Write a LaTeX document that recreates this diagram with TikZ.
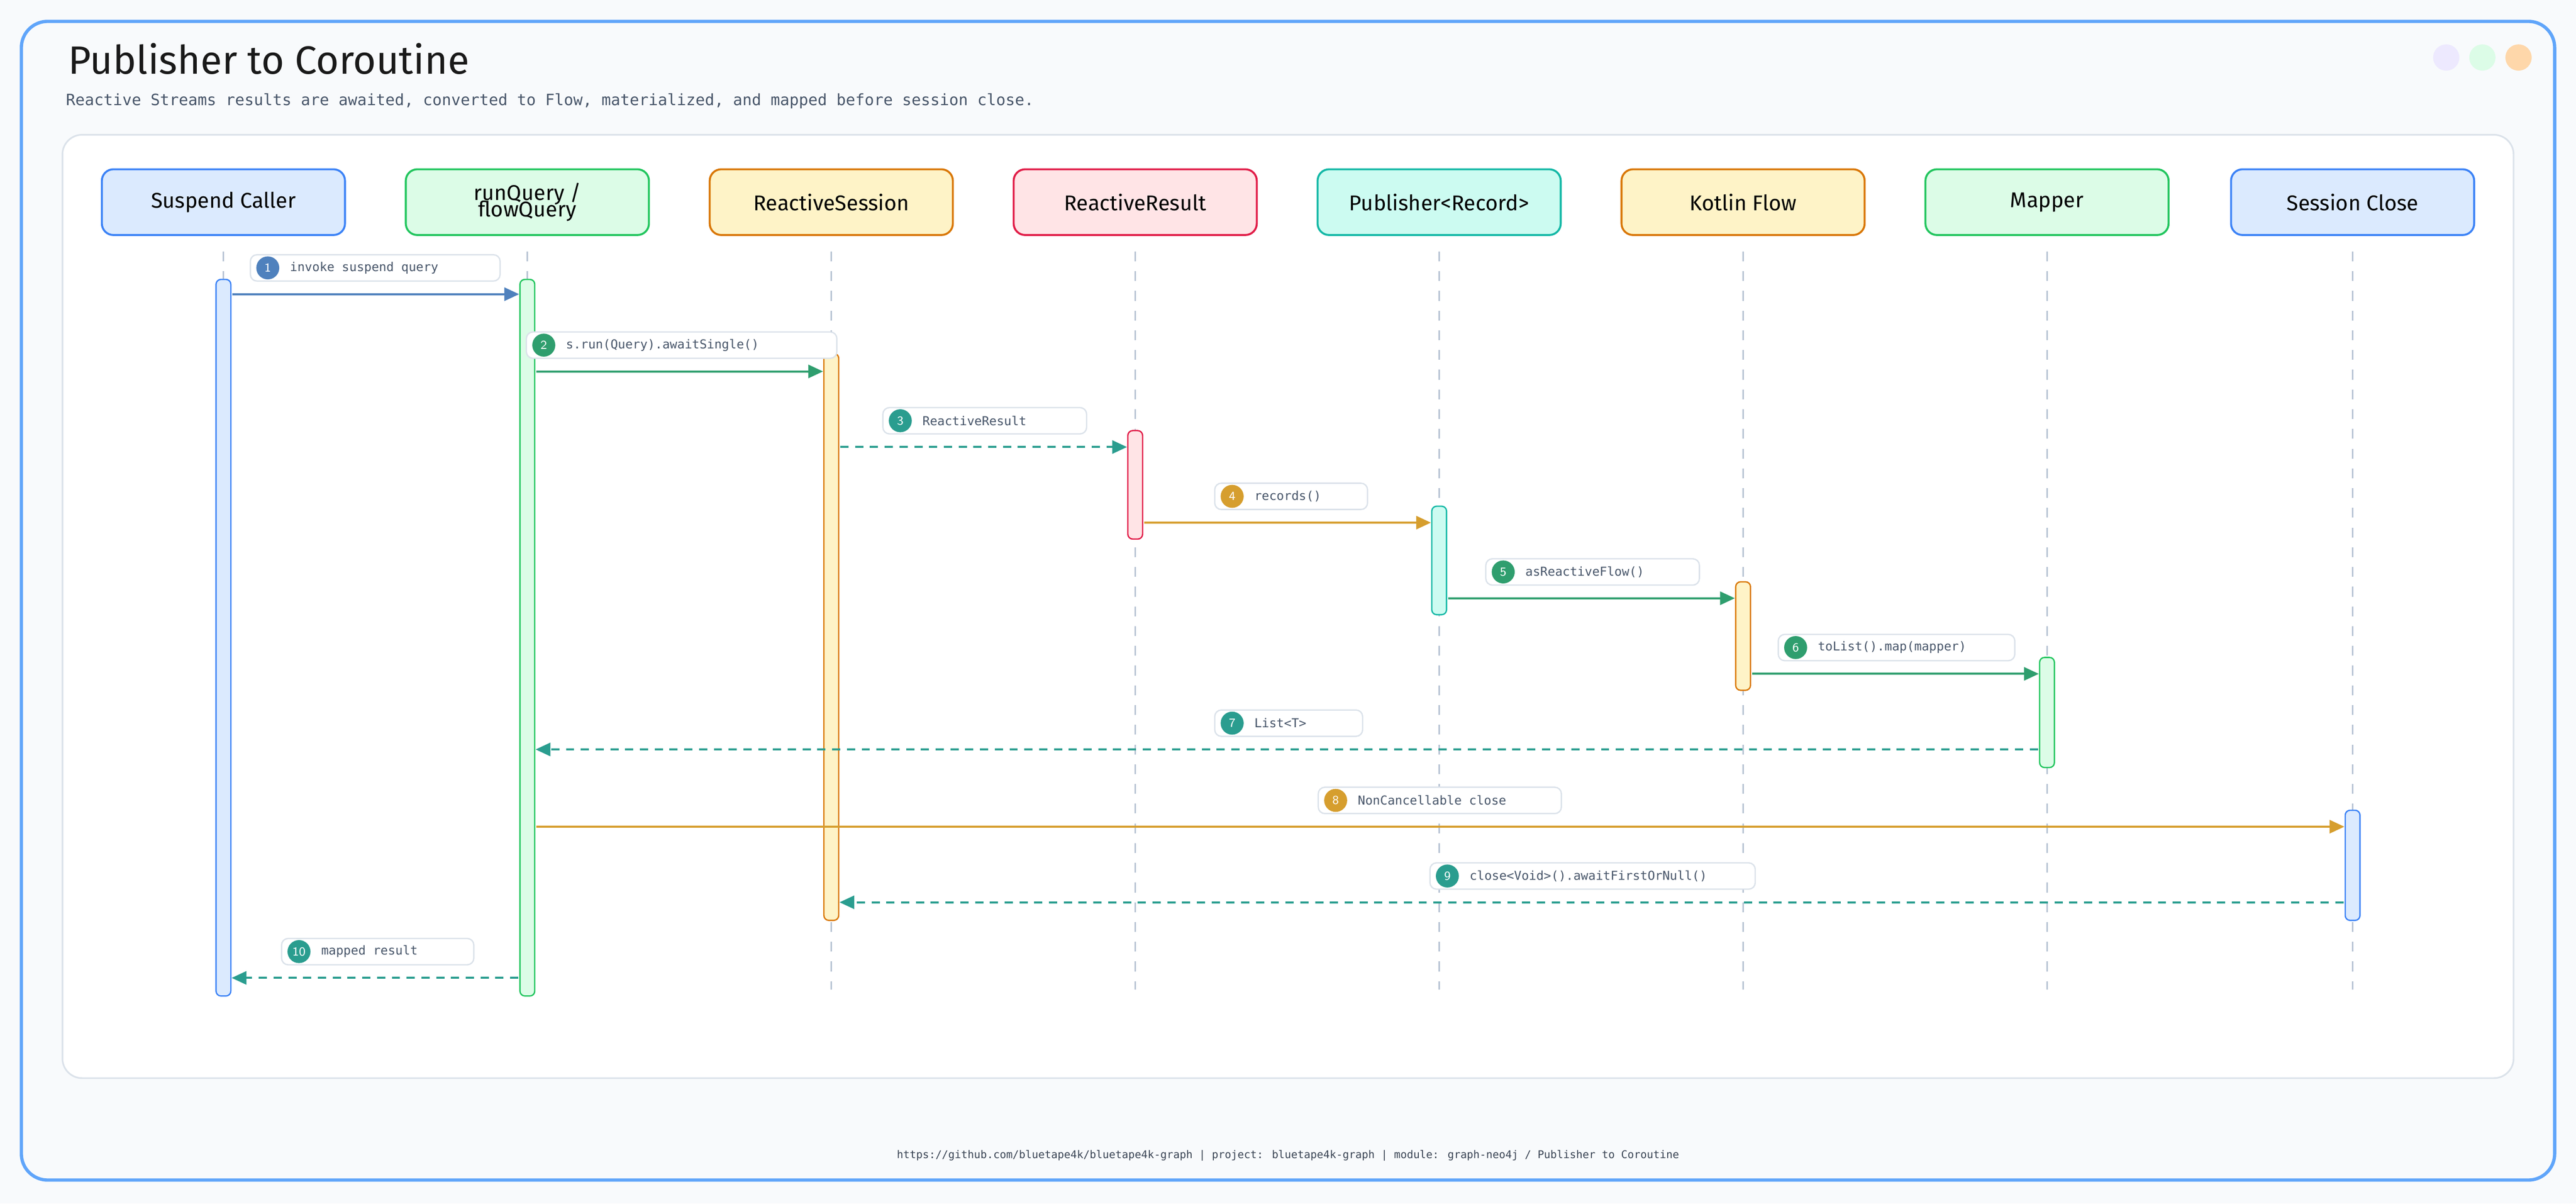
\documentclass[tikz,border=0pt]{standalone}
\usepackage{fontspec}
\setmainfont{Liberation Sans}
\newfontfamily\monof{DejaVu Sans Mono}
\newfontfamily\headf{Fira Sans}
\usetikzlibrary{arrows.meta}
\definecolor{bg}{HTML}{F8FAFC}
\definecolor{frame}{HTML}{60A5FA}
\definecolor{panel}{HTML}{DBE2EA}
\definecolor{life}{HTML}{B8C4D4}
\definecolor{bF}{HTML}{DBEAFE}\definecolor{bS}{HTML}{3B82F6}
\definecolor{gF}{HTML}{DCFCE7}\definecolor{gS}{HTML}{22C55E}
\definecolor{oF}{HTML}{FEF3C7}\definecolor{oS}{HTML}{D97706}
\definecolor{rF}{HTML}{FFE4E6}\definecolor{rS}{HTML}{E11D48}
\definecolor{tF}{HTML}{CCFBF1}\definecolor{tS}{HTML}{14B8A6}
\definecolor{mB}{HTML}{4F81BD}
\definecolor{mG}{HTML}{2F9E6E}
\definecolor{mT}{HTML}{2A9D8F}
\definecolor{mO}{HTML}{D69E2E}
\definecolor{txt}{HTML}{475569}
\definecolor{d1}{HTML}{EDE9FE}
\definecolor{d2}{HTML}{DCFCE7}
\definecolor{d3}{HTML}{FED7AA}
\begin{document}
\begin{tikzpicture}[x=1pt,y=-1pt,
  part/.style={draw=#1S,fill=#1F,line width=1.2pt,rounded corners=7pt,minimum width=148pt,minimum height=40pt,align=center,font=\headf\fontsize{13}{13}\selectfont,text=black},
  act/.style={draw=#1S,fill=#1F,line width=0.8pt,rounded corners=3pt,minimum width=9pt,inner sep=0pt},
  msg/.style={draw=#1,line width=1.3pt,-{Triangle[length=9pt,width=8pt]}},
  ret/.style={msg=#1,dash pattern=on 5pt off 4pt},
  lbl/.style={draw=panel,fill=white,rounded corners=4pt,line width=0.8pt,minimum height=16pt,inner sep=0pt,anchor=west},
  lt/.style={font=\monof\fontsize{7.5}{8}\selectfont,text=txt,anchor=west},
  badge/.style={circle,fill=#1,inner sep=0pt,minimum size=14pt,text=white,font=\sffamily\fontsize{7.5}{8}\selectfont}]
\fill[bg] (0,0) rectangle (1568,732.26);
\useasboundingbox (0,0) rectangle (1568,732.26);
\draw[frame,line width=2pt,rounded corners=16pt] (13,13) rectangle (1555,718);
\node[anchor=base west,font=\headf\fontsize{24}{24}\selectfont,text=black!90] (title) at (38,45) {Publisher to Coroutine};
\node[anchor=base west,font=\monof\fontsize{9.5}{10}\selectfont,text=txt,inner sep=0pt] (sub) at (40,64) {Reactive Streams results are awaited, converted to Flow, materialized, and mapped before session close.};
\fill[d1] (1489,35) circle (8);
\fill[d2] (1511,35) circle (8);
\fill[d3] (1533,35) circle (8);
\draw[panel,fill=white,line width=1pt,rounded corners=12pt] (38,82) rectangle (1530,656);
% participants
\foreach \n/\x/\c/\t in {p1/136/b/Suspend Caller,p2/321/g/{runQuery /\\[-3pt]flowQuery},p3/506/o/ReactiveSession,p4/691/r/ReactiveResult,p5/876/t/Publisher<Record>,p6/1061/o/Kotlin Flow,p7/1246/g/Mapper,p8/1432/b/Session Close}{
  \node[part=\c] (\n) at (\x,123) {\t};
  \draw[life,line width=0.9pt,dash pattern=on 6pt off 6pt] (\x,153) -- (\x,602);
}
% activations
\foreach \n/\x/\c/\a/\b in {a1/136/b/170/606,a2/321/g/170/606,a3/506/o/215/560,a4/691/r/262/328,a5/876/t/308/374,a6/1061/o/354/420,a7/1246/g/400/467,a8/1432/b/493/560}{
  \node[act=\c,minimum height=\b-\a] (\n) at (\x,{(\a+\b)/2}) {};
}
\foreach \i/\lx/\lw/\ly/\col/\st/\fx/\tx/\tt in {
  1/152/152/163/mB/msg/141.5/316/invoke suspend query,
  2/320/189/210/mG/msg/326.5/501/s.run(Query).awaitSingle(),
  3/537/124/256/mT/ret/511.5/686/ReactiveResult,
  4/739/93/302/mO/msg/696.5/871/records(),
  5/904/130/348/mG/msg/881.5/1056/asReactiveFlow(),
  6/1082/144/394/mG/msg/1066.5/1241/toList().map(mapper),
  7/739/90/440/mT/ret/1240.5/326/List<T>,
  8/802/148/487/mO/msg/326.5/1427/NonCancellable close,
  9/870/198/533/mT/ret/1426.5/511/close<Void>().awaitFirstOrNull(),
  10/171/117/579/mT/ret/315.5/141/mapped result}{
  \node[lbl,minimum width=\lw pt] (l\i) at (\lx,\ly) {};
  \node[badge=\col] (b\i) at (\lx+11,\ly) {\i};
  \node[lt] (t\i) at (\lx+21,\ly) {\tt};
  \coordinate (s\i) at (\fx,\ly+16);
  \coordinate (e\i) at (\tx,\ly+16);
  \draw[\st=\col] (s\i) -- (e\i);
}
\node[font=\monof\fontsize{6.5}{7}\selectfont,text=txt!80!black] (foot) at (784,703) {https://github.com/bluetape4k/bluetape4k-graph | project: bluetape4k-graph | module: graph-neo4j / Publisher to Coroutine};
\end{tikzpicture}
\end{document}
